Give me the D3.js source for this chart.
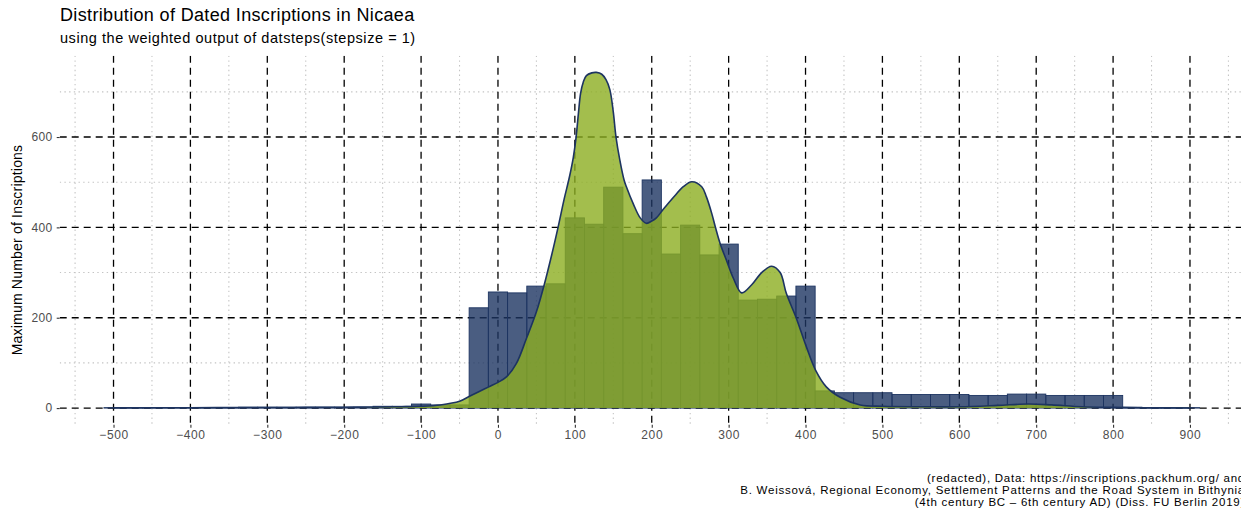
<!DOCTYPE html>
<html>
<head>
<meta charset="utf-8">
<script src="https://cdn.jsdelivr.net/npm/d3@7"></script>
<style>
  html, body { margin: 0; padding: 0; background: #ffffff; }
  svg { display: block; font-family: "Liberation Sans", Arial, sans-serif; }
</style>
</head>
<body>
<svg id="chart" width="1241" height="512"></svg>
<script>
// Histogram bins (centre year of each 25-year bin) and the number of inscriptions in each
const binCenters = [-500, -475, -450, -425, -400, -375, -350, -325, -300, -275, -250, -225, -200, -175,
  -150, -125, -100, -75, -50, -25, 0, 25, 50, 75, 100, 125, 150, 175, 200, 225, 250, 275, 300,
  325, 350, 375, 400, 425, 450, 475, 500, 525, 550, 575, 600, 625, 650, 675, 700, 725, 750, 775,
  800, 825, 850, 875, 900];
const binCounts = [1, 1, 1, 1, 1, 1, 1, 2, 2, 2, 2, 2, 2, 2,
  4, 4, 9, 7, 7, 222, 257, 255, 270, 275, 421, 407, 489, 386, 505, 341, 405, 339, 363,
  239, 241, 248, 270, 38, 34, 34, 34, 30, 30, 30, 30, 28, 28, 31, 31, 28, 28, 28,
  28, 2, 1, 1, 1];
const binWidth = 25;

// Smoothed density of the dated inscriptions, scaled to counts
const densityYears = [-500, -400, -300, -250, -200, -150, -125, -100, -75, -50, -37, -25, -12, 0, 11, 24, 37,
  50, 60, 70, 78, 86, 93, 98, 101.5, 104.5, 107.5, 111, 115, 122, 128, 135, 140.5, 145.5, 150,
  153.5, 158.5, 164, 167, 176, 185, 193, 200, 206, 215, 228, 241, 252, 265, 271, 278, 283,
  289, 297, 306, 317, 330, 343, 356, 367, 375, 388, 401, 413, 427, 445, 471, 500, 550, 600,
  650, 690, 720, 760, 800, 850, 900];
const densityValues = [0.5, 0.8, 1.2, 1.5, 2, 2.5, 3, 4, 7, 15, 26, 36, 47, 57, 69, 99, 154,
  213, 272, 340, 399, 462, 512, 555, 598, 650, 697, 722, 736, 742, 743, 739, 727, 705, 655,
  600, 549, 505, 490, 452, 421, 409, 414, 421, 440, 466, 490, 501, 490, 468, 431, 399,
  364, 328, 288, 255, 273, 300, 314, 300, 254, 199, 136, 84, 47, 24, 7, 4, 3, 3,
  6, 9, 7, 3, 1.5, 0.5, 0.3];

const xTicks = [-500, -400, -300, -200, -100, 0, 100, 200, 300, 400, 500, 600, 700, 800, 900];
const xMinor = [-550, -450, -350, -250, -150, -50, 50, 150, 250, 350, 450, 550, 650, 750, 850, 950];
const yTicks = [0, 200, 400, 600];
const yMinor = [100, 300, 500, 700];

const titleText = "Distribution of Dated Inscriptions in Nicaea";
const subtitleText = "using the weighted output of datsteps(stepsize = 1)";
const yTitle = "Maximum Number of Inscriptions";
const captionLines = [
  "(redacted), Data: https://inscriptions.packhum.org/ and",
  "B. Weissová, Regional Economy, Settlement Patterns and the Road System in Bithynia",
  "(4th century BC \u2013 6th century AD) (Diss. FU Berlin 2019)"
];

const svg = d3.select("#chart");
const panel = { left: 59.7, right: 1243.8, top: 55.7, bottom: 424.8 };

const x = d3.scaleLinear().domain([-570, 970]).range([panel.left, panel.right]);
const y = d3.scaleLinear().domain([-37, 780]).range([panel.bottom, panel.top]);

const navy = "#1d3461";
const green = "#8cae21";

svg.append("defs").append("clipPath").attr("id", "panel-clip")
  .append("rect").attr("x", panel.left).attr("y", panel.top)
  .attr("width", panel.right - panel.left).attr("height", panel.bottom - panel.top);

// Grid: dotted minor lines, dashed major lines
const grid = svg.append("g").attr("clip-path", "url(#panel-clip)");
grid.selectAll("line.vminor").data(xMinor).join("line")
  .attr("x1", d => x(d)).attr("x2", d => x(d))
  .attr("y1", panel.top).attr("y2", panel.bottom)
  .attr("stroke", "#c4c4c4").attr("stroke-width", 1.1).attr("stroke-dasharray", "1.4,3.3");
grid.selectAll("line.hminor").data(yMinor).join("line")
  .attr("y1", d => y(d)).attr("y2", d => y(d))
  .attr("x1", panel.left).attr("x2", panel.right)
  .attr("stroke", "#c4c4c4").attr("stroke-width", 1.1).attr("stroke-dasharray", "1.4,3.3");
grid.selectAll("line.vmajor").data(xTicks).join("line")
  .attr("x1", d => x(d)).attr("x2", d => x(d))
  .attr("y1", panel.top).attr("y2", panel.bottom)
  .attr("stroke", "#000").attr("stroke-width", 1.3).attr("stroke-dasharray", "7,5");
grid.selectAll("line.hmajor").data(yTicks).join("line")
  .attr("y1", d => y(d)).attr("y2", d => y(d))
  .attr("x1", panel.left).attr("x2", panel.right)
  .attr("stroke", "#000").attr("stroke-width", 1.3).attr("stroke-dasharray", "7,5");

// Histogram
const bins = binCenters.map((c, i) => ({ c, n: binCounts[i] }));
svg.append("g").attr("clip-path", "url(#panel-clip)")
  .selectAll("rect").data(bins).join("rect")
  .attr("x", d => x(d.c - binWidth / 2))
  .attr("width", d => x(d.c + binWidth / 2) - x(d.c - binWidth / 2))
  .attr("y", d => y(d.n))
  .attr("height", d => y(0) - y(d.n))
  .attr("fill", navy).attr("fill-opacity", 0.8)
  .attr("stroke", navy).attr("stroke-width", 0.9);

// Density area and outline
const dens = densityYears.map((t, i) => ({ t, v: densityValues[i] }));
const curve = d3.curveCatmullRom.alpha(0.5);
svg.append("path").datum(dens)
  .attr("d", d3.area().x(d => x(d.t)).y0(y(0)).y1(d => y(d.v)).curve(curve))
  .attr("fill", green).attr("fill-opacity", 0.8);
svg.append("path").datum(dens)
  .attr("d", d3.line().x(d => x(d.t)).y(d => y(d.v)).curve(curve))
  .attr("fill", "none").attr("stroke", navy).attr("stroke-width", 1.6);

// Axes
const xAxis = svg.append("g").attr("transform", `translate(0,${panel.bottom})`)
  .call(d3.axisBottom(x).tickValues(xTicks).tickSize(3).tickPadding(3)
    .tickFormat(d => d < 0 ? "\u2212" + Math.abs(d) : String(d)));
xAxis.select(".domain").remove();
xAxis.selectAll("line").attr("stroke", "#333").attr("stroke-width", 1.1);
xAxis.selectAll("text").attr("fill", "#4d4d4d").attr("font-size", 12)
  .attr("letter-spacing", 0.6)
  .attr("font-family", "Liberation Sans, Arial, sans-serif");

const yAxis = svg.append("g").attr("transform", `translate(${panel.left},0)`)
  .call(d3.axisLeft(y).tickValues(yTicks).tickSize(3).tickPadding(4));
yAxis.select(".domain").remove();
yAxis.selectAll("line").attr("stroke", "#333").attr("stroke-width", 1.1);
yAxis.selectAll("text").attr("fill", "#4d4d4d").attr("font-size", 12)
  .attr("letter-spacing", 0.4)
  .attr("font-family", "Liberation Sans, Arial, sans-serif");

// Titles
svg.append("text").attr("x", 60).attr("y", 21).attr("font-size", 18).attr("fill", "#000")
  .attr("letter-spacing", 0.35)
  .text(titleText);
svg.append("text").attr("x", 60).attr("y", 43).attr("font-size", 14.5).attr("fill", "#000")
  .attr("letter-spacing", 0.55)
  .text(subtitleText);
svg.append("text")
  .attr("transform", `translate(22,250) rotate(-90)`)
  .attr("text-anchor", "middle").attr("font-size", 14).attr("fill", "#000")
  .attr("letter-spacing", 0.2)
  .text(yTitle);

// Caption
svg.append("g").selectAll("text").data(captionLines).join("text")
  .attr("x", 1245).attr("y", (d, i) => 482 + i * 12)
  .attr("text-anchor", "end").attr("font-size", 11.5).attr("fill", "#000")
  .attr("letter-spacing", 0.75)
  .text(d => d);
</script>
</body>
</html>
